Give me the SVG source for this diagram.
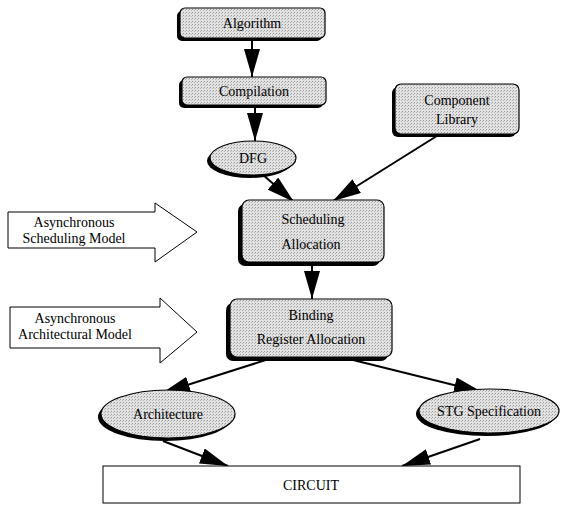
<svg xmlns="http://www.w3.org/2000/svg" width="566" height="506" viewBox="0 0 566 506">
<defs>
<pattern id="stip" width="3" height="3" patternUnits="userSpaceOnUse">
<rect width="3" height="3" fill="#e2e2e2"/>
<rect x="0" y="0" width="1" height="1" fill="#9a9a9a"/>
<rect x="2" y="1" width="1" height="1" fill="#b5b5b5"/>
</pattern>
<marker id="ah" markerUnits="userSpaceOnUse" markerWidth="30" markerHeight="16" refX="28" refY="8" orient="auto">
<path d="M0,0 L28,8 L0,16 z" fill="#000"/>
</marker>
</defs>
<style>
.sh{fill:#000}
.bx{fill:url(#stip);stroke:#000;stroke-width:1.2}
.t{font-family:"Liberation Serif","Times New Roman",serif;font-size:14px;fill:#000;text-anchor:middle}
.c{stroke:#000;stroke-width:2;fill:none;marker-end:url(#ah)}
.ba{fill:#fff;stroke:#000;stroke-width:1}
</style>
<g id="connectors">
<line class="c" x1="252" y1="38" x2="252" y2="77"/>
<line class="c" x1="255" y1="105" x2="255" y2="141"/>
<line class="c" x1="262" y1="174" x2="294" y2="202"/>
<line class="c" x1="440" y1="134" x2="333" y2="201"/>
<line class="c" x1="312" y1="263" x2="312" y2="299"/>
<line class="c" x1="272" y1="358" x2="162" y2="393"/>
<line class="c" x1="345" y1="358" x2="482" y2="392"/>
<line class="c" x1="163" y1="441" x2="228" y2="466"/>
<line class="c" x1="480" y1="439" x2="402" y2="466"/>
</g>
<g id="algorithm">
<rect class="sh" x="177" y="11" width="145" height="30" rx="5"/>
<rect class="bx" x="180" y="8" width="145" height="30" rx="5"/>
<text class="t" x="252" y="28">Algorithm</text>
</g>
<g id="compilation">
<rect class="sh" x="179" y="80" width="144" height="28" rx="5"/>
<rect class="bx" x="182" y="77" width="144" height="28" rx="5"/>
<text class="t" x="254" y="96">Compilation</text>
</g>
<g id="dfg">
<ellipse class="sh" cx="250" cy="161" rx="43" ry="17"/>
<ellipse class="bx" cx="253" cy="158" rx="43" ry="17"/>
<text class="t" x="253" y="163">DFG</text>
</g>
<g id="component-library">
<rect class="sh" x="392" y="87" width="124" height="50" rx="6"/>
<rect class="bx" x="395" y="84" width="124" height="50" rx="6"/>
<text class="t" x="457" y="105">Component</text>
<text class="t" x="457" y="124">Library</text>
</g>
<g id="scheduling">
<rect class="sh" x="238" y="204" width="142" height="62" rx="7"/>
<rect class="bx" x="242" y="200" width="142" height="62" rx="7"/>
<text class="t" x="313" y="224">Scheduling</text>
<text class="t" x="311" y="249">Allocation</text>
</g>
<g id="binding">
<rect class="sh" x="226" y="303" width="162" height="58" rx="7"/>
<rect class="bx" x="230" y="299" width="162" height="58" rx="7"/>
<text class="t" x="311" y="320">Binding</text>
<text class="t" x="311" y="344">Register Allocation</text>
</g>
<g id="async-scheduling-model">
<polygon class="ba" points="8,212 155,212 155,203 197,232 155,262 155,248 8,248"/>
<text class="t" x="74" y="227">Asynchronous</text>
<text class="t" x="74" y="243">Scheduling Model</text>
</g>
<g id="async-architectural-model">
<polygon class="ba" points="10,307 160,307 160,298 197,332 160,363 160,348 10,348"/>
<text class="t" x="75" y="323">Asynchronous</text>
<text class="t" x="75" y="339">Architectural Model</text>
</g>
<g id="architecture">
<ellipse class="sh" cx="165" cy="417" rx="67" ry="24"/>
<ellipse class="bx" cx="168" cy="414" rx="67" ry="24"/>
<text class="t" x="168" y="419">Architecture</text>
</g>
<g id="stg-specification">
<ellipse class="sh" cx="486" cy="414" rx="70" ry="22"/>
<ellipse class="bx" cx="489" cy="411" rx="70" ry="22"/>
<text class="t" x="489" y="416">STG Specification</text>
</g>
<g id="circuit">
<rect x="103" y="466" width="417" height="37" fill="#fff" stroke="#000" stroke-width="1"/>
<text class="t" x="311" y="490">CIRCUIT</text>
</g>
</svg>
